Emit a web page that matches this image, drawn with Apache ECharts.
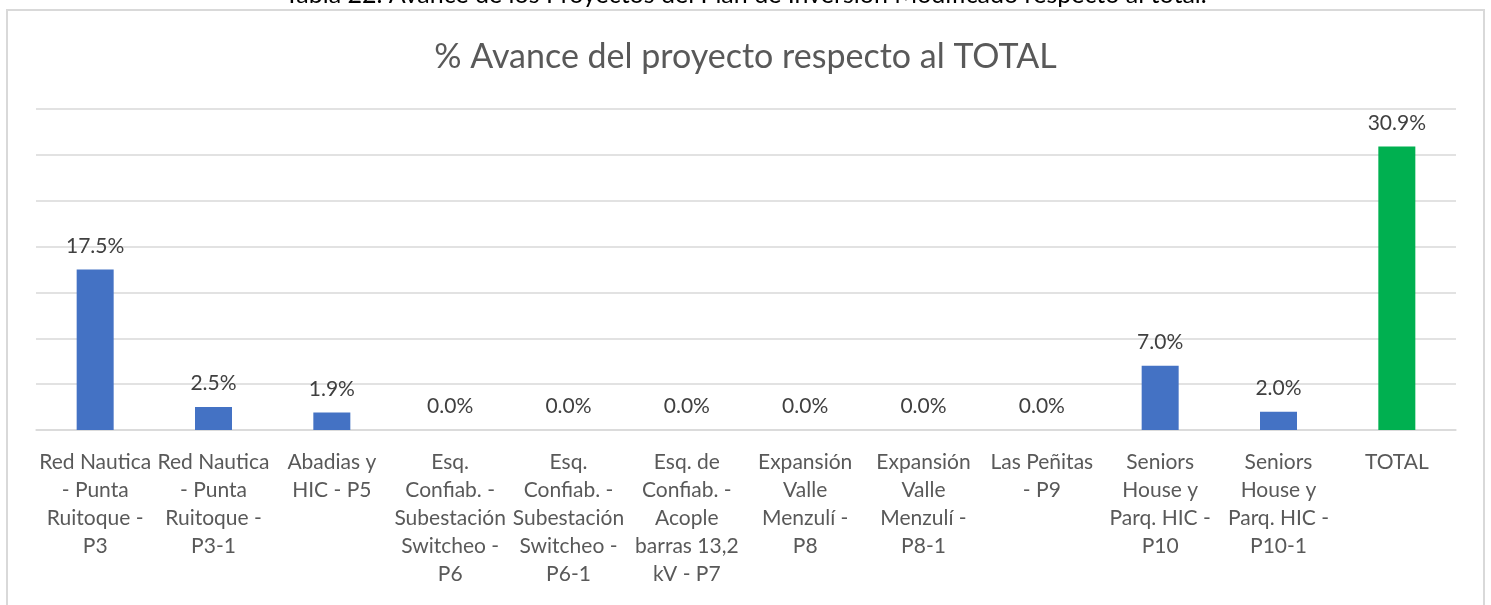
<!DOCTYPE html>
<html>
<head>
<meta charset="utf-8">
<script src="https://cdn.jsdelivr.net/npm/echarts@6/dist/echarts.min.js"></script>
<style>
  html, body { margin: 0; padding: 0; background: #fff; }
  #chart { width: 1491px; height: 605px; }
</style>
</head>
<body>
<div id="chart"></div>
<script>
// categorias (con los saltos de linea como en el grafico original)
var categorias = [
  'Red Nautica\n- Punta\nRuitoque -\nP3',
  'Red Nautica\n- Punta\nRuitoque -\nP3-1',
  'Abadias y\nHIC - P5',
  'Esq.\nConfiab. -\nSubestación\nSwitcheo -\nP6',
  'Esq.\nConfiab. -\nSubestación\nSwitcheo -\nP6-1',
  'Esq. de\nConfiab. -\nAcople\nbarras 13,2\nkV - P7',
  'Expansión\nValle\nMenzulí -\nP8',
  'Expansión\nValle\nMenzulí -\nP8-1',
  'Las Peñitas\n- P9',
  'Seniors\nHouse y\nParq. HIC -\nP10',
  'Seniors\nHouse y\nParq. HIC -\nP10-1',
  'TOTAL'
];
var avance = [17.5, 2.5, 1.9, 0.0, 0.0, 0.0, 0.0, 0.0, 0.0, 7.0, 2.0, 30.9];

var titulo = '% Avance del proyecto respecto al TOTAL';
var tituloTabla = 'Tabla 22. Avance de los Proyectos del Plan de Inversión Modificado respecto al total.';

var fuente = 'Lato, "Open Sans", sans-serif';

var Chart_Avance = echarts.init(document.getElementById('chart'));
var option_Avance = {
  backgroundColor: '#fff',
  animation: false,
  textStyle: { fontFamily: fuente },
  title: {
    text: titulo,
    left: 'center',
    top: 35,
    textStyle: { color: '#595959', fontSize: 34, fontWeight: 'normal', fontFamily: fuente }
  },
  graphic: [
    {
      type: 'text',
      left: 'center',
      top: -18,
      style: { text: tituloTabla, fill: '#000', font: '25px ' + fuente }
    },
    {
      type: 'rect',
      shape: { x: 7, y: 10, width: 1477, height: 640 },
      style: { fill: 'none', stroke: '#d9d9d9', lineWidth: 2 },
      silent: true
    }
  ],
  grid: { left: 36, right: 35, top: 109, bottom: 175 },
  xAxis: {
    type: 'category',
    data: categorias,
    axisTick: { show: false },
    axisLine: { show: true, lineStyle: { color: '#d9d9d9', width: 1.5 } },
    axisLabel: {
      interval: 0,
      color: '#595959',
      fontSize: 21,
      lineHeight: 28,
      margin: 18,
      fontFamily: fuente
    }
  },
  yAxis: {
    type: 'value',
    min: 0,
    max: 35,
    interval: 5,
    axisLabel: { show: false },
    axisLine: { show: false },
    axisTick: { show: false },
    splitLine: { lineStyle: { color: '#d9d9d9', width: 1.5 } }
  },
  series: [
    {
      type: 'bar',
      data: avance,
      barWidth: 37,
      itemStyle: {
        color: function (p) {
          return p.dataIndex === avance.length - 1 ? '#00B050' : '#4472C4';
        }
      },
      label: {
        show: true,
        position: 'top',
        distance: 13,
        color: '#404040',
        fontSize: 21,
        fontFamily: fuente,
        formatter: function (p) { return p.value.toFixed(1) + '%'; }
      }
    }
  ]
};
Chart_Avance.setOption(option_Avance);
</script>
</body>
</html>
